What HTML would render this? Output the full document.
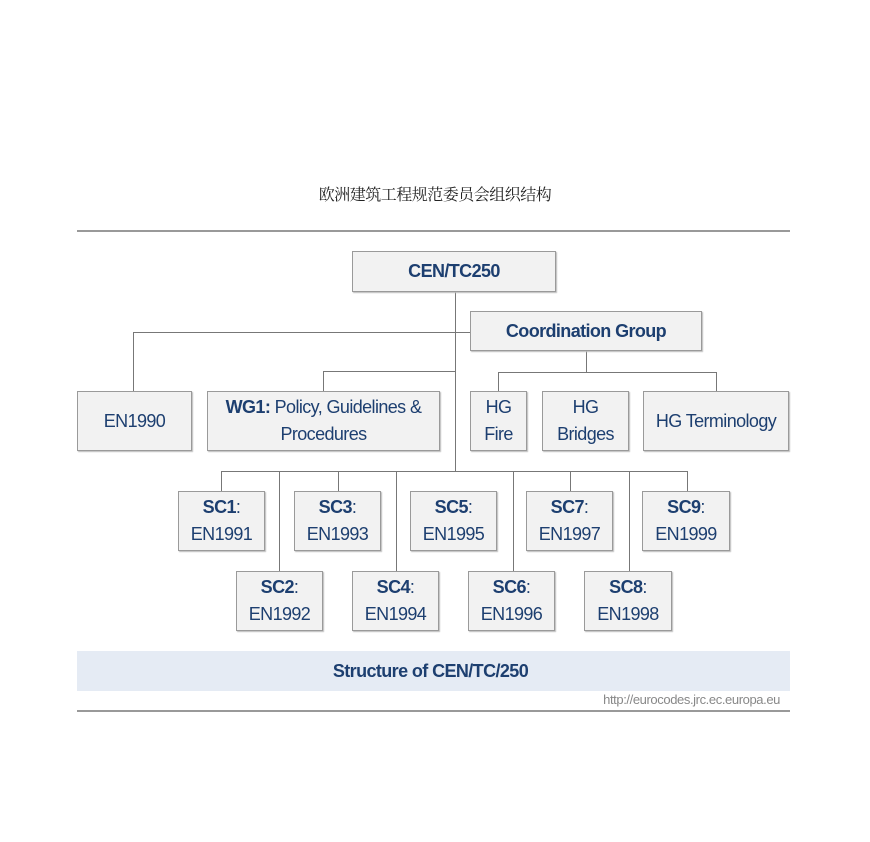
<!DOCTYPE html>
<html><head><meta charset="utf-8"><style>
body{margin:0;width:870px;height:842px;background:#fff;position:relative;overflow:hidden;font-family:"Liberation Sans",sans-serif}
.b{position:absolute;box-sizing:border-box;background:#f2f2f2;border:1px solid #9a9a9a;box-shadow:1px 1px 1px #bbb;color:#1d3f70;font-size:18px;letter-spacing:-0.6px;display:flex;align-items:center;justify-content:center;text-align:center;line-height:27px}
.h{position:absolute;height:1px;background:#777}
.v{position:absolute;width:1px;background:#777}
b{font-weight:bold}
</style></head><body>
<div style="position:absolute;left:0;width:870px;top:182px;text-align:center;font-family:'Liberation Serif','Noto Serif CJK SC',serif;font-size:16px;color:#222;letter-spacing:-0.5px">欧洲建筑工程规范委员会组织结构</div>
<div style="position:absolute;left:77px;width:713px;top:230px;height:2px;background:#999"></div>
<div style="position:absolute;left:77px;width:713px;top:710px;height:2px;background:#999"></div>

<div class="v" style="left:455px;top:292px;height:180px"></div>
<div class="h" style="left:133px;top:332px;width:337px"></div>
<div class="v" style="left:133px;top:332px;height:59px"></div>
<div class="h" style="left:323px;top:371px;width:132px"></div>
<div class="v" style="left:323px;top:371px;height:20px"></div>
<div class="v" style="left:586px;top:351px;height:22px"></div>
<div class="h" style="left:498px;top:372px;width:218px"></div>
<div class="v" style="left:498px;top:372px;height:19px"></div>
<div class="v" style="left:716px;top:372px;height:19px"></div>
<div class="h" style="left:221px;top:471px;width:466px"></div>
<div class="v" style="left:221px;top:471px;height:20px"></div>
<div class="v" style="left:338px;top:471px;height:20px"></div>
<div class="v" style="left:570px;top:471px;height:20px"></div>
<div class="v" style="left:687px;top:471px;height:20px"></div>
<div class="v" style="left:279px;top:471px;height:100px"></div>
<div class="v" style="left:396px;top:471px;height:100px"></div>
<div class="v" style="left:513px;top:471px;height:100px"></div>
<div class="v" style="left:629px;top:471px;height:100px"></div>

<div class="b" style="left:352px;top:251px;width:204px;height:41px"><b>CEN/TC250</b></div>
<div class="b" style="left:470px;top:311px;width:232px;height:40px"><b>Coordination Group</b></div>
<div class="b" style="left:77px;top:391px;width:115px;height:60px">EN1990</div>
<div class="b" style="left:207px;top:391px;width:233px;height:60px"><span><b>WG1:</b> Policy, Guidelines &amp;<br>Procedures</span></div>
<div class="b" style="left:470px;top:391px;width:57px;height:60px">HG<br>Fire</div>
<div class="b" style="left:542px;top:391px;width:87px;height:60px">HG<br>Bridges</div>
<div class="b" style="left:643px;top:391px;width:146px;height:60px">HG Terminology</div>

<div class="b" style="left:178px;top:491px;width:87px;height:60px"><span><b>SC1</b>:<br>EN1991</span></div>
<div class="b" style="left:294px;top:491px;width:87px;height:60px"><span><b>SC3</b>:<br>EN1993</span></div>
<div class="b" style="left:410px;top:491px;width:87px;height:60px"><span><b>SC5</b>:<br>EN1995</span></div>
<div class="b" style="left:526px;top:491px;width:87px;height:60px"><span><b>SC7</b>:<br>EN1997</span></div>
<div class="b" style="left:642px;top:491px;width:88px;height:60px"><span><b>SC9</b>:<br>EN1999</span></div>
<div class="b" style="left:236px;top:571px;width:87px;height:60px"><span><b>SC2</b>:<br>EN1992</span></div>
<div class="b" style="left:352px;top:571px;width:87px;height:60px"><span><b>SC4</b>:<br>EN1994</span></div>
<div class="b" style="left:468px;top:571px;width:87px;height:60px"><span><b>SC6</b>:<br>EN1996</span></div>
<div class="b" style="left:584px;top:571px;width:88px;height:60px"><span><b>SC8</b>:<br>EN1998</span></div>

<div style="position:absolute;left:77px;top:651px;width:713px;height:40px;background:#e5ebf4;display:flex;align-items:center;justify-content:center;color:#1d3f70;font-size:18px;font-weight:bold;letter-spacing:-0.6px;padding-right:6px;box-sizing:border-box">Structure of CEN/TC/250</div>
<div style="position:absolute;right:90px;top:692px;font-size:13px;color:#888;letter-spacing:-0.4px">http://eurocodes.jrc.ec.europa.eu</div>
</body></html>
